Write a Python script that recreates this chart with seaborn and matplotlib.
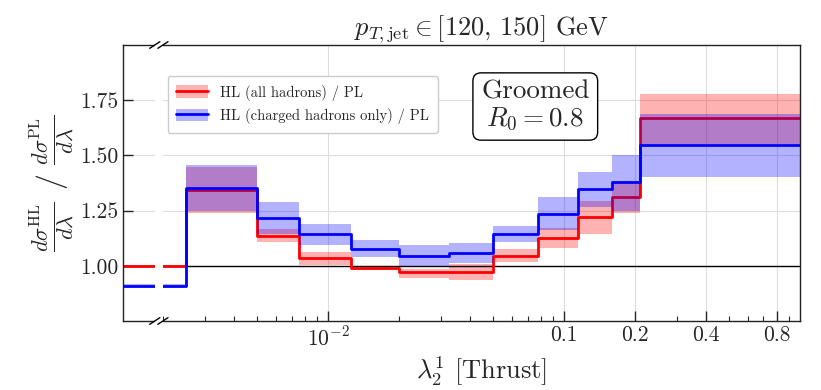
import numpy as np
import matplotlib
matplotlib.use("Agg")
import matplotlib.pyplot as plt
from matplotlib.patches import Patch, Rectangle
from matplotlib.lines import Line2D
import seaborn as sns

# - Bin edges (first bin starts at 0, shown behind the axis break) -
bin_edges = [0.0, 0.0025, 0.005, 0.0075, 0.0125, 0.02, 0.0325, 0.05, 0.0775, 0.115, 0.16, 0.21, 1.0]

# - HL (all hadrons) / PL -
red_ratio = [1.000, 1.345, 1.135, 1.033, 0.991, 0.973, 0.974, 1.046, 1.126, 1.221, 1.311, 1.668]
red_low = [0.995, 1.240, 1.108, 1.005, 0.979, 0.945, 0.936, 1.016, 1.080, 1.146, 1.237, 1.550]
red_high = [1.005, 1.449, 1.165, 1.063, 1.001, 0.986, 1.006, 1.074, 1.171, 1.294, 1.385, 1.780]

# - HL (charged hadrons only) / PL -
blue_ratio = [0.910, 1.352, 1.217, 1.144, 1.074, 1.046, 1.059, 1.146, 1.235, 1.349, 1.379, 1.545]
blue_low = [0.903, 1.247, 1.146, 1.094, 1.039, 1.000, 1.012, 1.107, 1.161, 1.267, 1.249, 1.403]
blue_high = [0.917, 1.455, 1.287, 1.188, 1.115, 1.092, 1.103, 1.179, 1.311, 1.425, 1.502, 1.688]

x_ticks = [0.01, 0.1, 0.2, 0.4, 0.8]
x_tick_labels = [r"$10^{-2}$", "0.1", "0.2", "0.4", "0.8"]
y_ticks = [1.00, 1.25, 1.50, 1.75]

x_min, x_max = 1.35e-3, 1.0
y_min, y_max = 0.75, 2.0

# ---> Style <---
sns.set_style("ticks")
plt.rcParams["font.family"] = "serif"
plt.rcParams["font.serif"] = ["cmr10", "DejaVu Serif"]
plt.rcParams["mathtext.fontset"] = "cm"
plt.rcParams["axes.formatter.use_mathtext"] = True
plt.rcParams["xtick.direction"] = "in"
plt.rcParams["ytick.direction"] = "in"

fig = plt.figure(figsize=(8.21, 3.9), dpi=100)
ax = fig.add_axes([0.1498, 0.177, 0.8246, 0.7076])
ax.set_xscale("log")


def step_xy(vals):
    xs = [max(e, x_min) for e in bin_edges]
    ys = list(vals) + [vals[-1]]
    return np.array(xs), np.array(ys)


# - Red (all hadrons) -
xs, lo = step_xy(red_low)
_, hi = step_xy(red_high)
ax.fill_between(xs, lo, hi, step="post", color="red", alpha=0.3, lw=0, zorder=1)
xs, ys = step_xy(red_ratio)
sns.lineplot(x=xs, y=ys, drawstyle="steps-post", color="red", lw=2,
             estimator=None, sort=False, ax=ax, zorder=2)

# - Blue (charged hadrons only) -
xs, lo = step_xy(blue_low)
_, hi = step_xy(blue_high)
ax.fill_between(xs, lo, hi, step="post", color="blue", alpha=0.3, lw=0, zorder=2.1)
xs, ys = step_xy(blue_ratio)
sns.lineplot(x=xs, y=ys, drawstyle="steps-post", color="blue", lw=2,
             estimator=None, sort=False, ax=ax, zorder=2.2)

ax.axhline(1.0, color="black", lw=1.0, zorder=1.5)

ax.set_xlim(x_min, x_max)
ax.set_ylim(y_min, y_max)
ax.set_xticks(x_ticks)
ax.set_xticklabels(x_tick_labels)
ax.xaxis.set_minor_locator(matplotlib.ticker.LogLocator(base=10, subs=np.arange(2, 10), numticks=20))
ax.xaxis.set_minor_formatter(matplotlib.ticker.NullFormatter())
ax.set_yticks(y_ticks)
ax.set_yticklabels([f"{v:.2f}" for v in y_ticks])
ax.tick_params(which="major", length=7, width=1, labelsize=15.5, top=False, right=False)
ax.tick_params(which="minor", length=3.5, width=0.8, top=False, right=False)
ax.grid(True, which="major", color="#dddddd", lw=0.8, zorder=0)
for s in ax.spines.values():
    s.set_linewidth(1.0)
    s.set_color("#222222")

# - Axis break -
gap_l, gap_r = 0.047, 0.059
ax.add_patch(Rectangle((gap_l, -0.01), gap_r - gap_l, 1.02, transform=ax.transAxes,
                       facecolor="white", edgecolor="none", zorder=3, clip_on=False))
dx, dy = 0.0075, 0.012
for yb in (0.0, 1.0):
    for xb in (gap_l, gap_r):
        ax.plot([xb - dx, xb + dx], [yb - dy, yb + dy], transform=ax.transAxes,
                color="black", lw=1.0, clip_on=False, zorder=4)

# - Labels -
ax.set_title(r"$p_{T,\mathrm{jet}} \in [120,\,150]$ GeV", fontsize=19, pad=6, x=0.53)
ax.set_xlabel(r"$\lambda_2^1$ [Thrust]", fontsize=19, labelpad=2)
ax.xaxis.set_label_coords(0.53, -0.12)
ax.set_ylabel(r"$\frac{d\sigma^{\mathrm{HL}}}{d\lambda}\ /\ \frac{d\sigma^{\mathrm{PL}}}{d\lambda}$",
              fontsize=23, labelpad=2)

# - Legend -
handles = [
    (Patch(facecolor="red", alpha=0.3, edgecolor="none"), Line2D([], [], color="red", lw=2)),
    (Patch(facecolor="blue", alpha=0.3, edgecolor="none"), Line2D([], [], color="blue", lw=2)),
]
labels = ["HL (all hadrons) / PL", "HL (charged hadrons only) / PL"]
ax.legend(handles, labels, loc="upper left", bbox_to_anchor=(0.055, 0.915), fontsize=10.5,
          frameon=True, fancybox=True, edgecolor="#cccccc", framealpha=1.0,
          handlelength=2.2, handleheight=0.9, borderpad=0.6, labelspacing=0.5)

ax.text(0.609, 0.78, "Groomed\n" + r"$R_0 = 0.8$", transform=ax.transAxes, fontsize=19.5,
        ha="center", va="center", linespacing=1.1, zorder=5,
        bbox=dict(boxstyle="round,pad=0.3", facecolor="white", edgecolor="black", lw=1))

fig.savefig("out.png", dpi=100)
